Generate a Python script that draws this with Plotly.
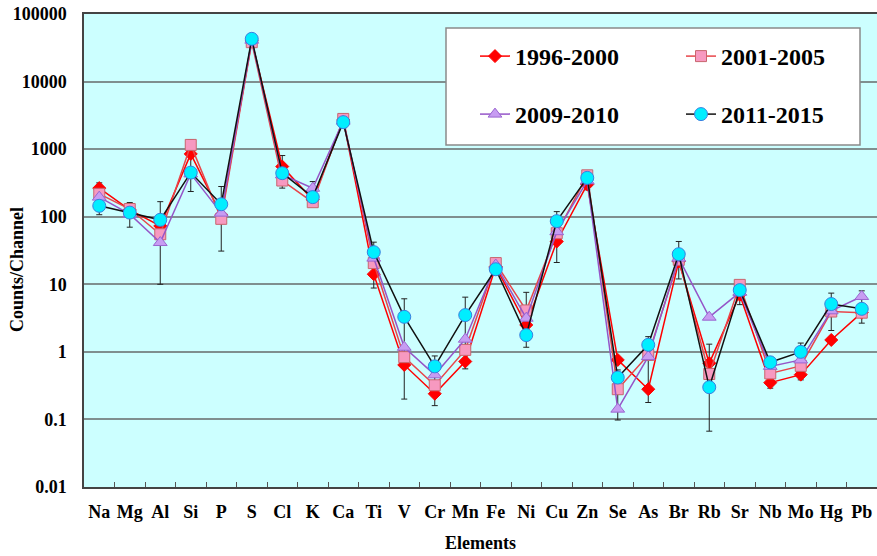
import math
import plotly.graph_objects as go

elements = ["Na", "Mg", "Al", "Si", "P", "S", "Cl", "K", "Ca", "Ti", "V", "Cr", "Mn",
            "Fe", "Ni", "Cu", "Zn", "Se", "As", "Br", "Rb", "Sr", "Nb", "Mo", "Hg", "Pb"]

s1996_2000 = [265, 126, 73, 850, 106, 40000, 553, 178, 2700, 14.1, 0.64, 0.24, 0.72,
              18.3, 2.5, 43, 300, 0.76, 0.28, 21.8, 0.68, 7.0, 0.35, 0.46, 1.5, 3.8]
s2001_2005 = [218, 130, 55, 1155, 93, 38300, 343, 164, 2800, 20.6, 0.835, 0.32, 1.07,
              20.6, 4.1, 57, 410, 0.28, 0.9, 23, 0.47, 9.8, 0.48, 0.62, 3.95, 3.8]
s2009_2010 = [195, 109, 41.5, 430, 113, 41000, 417, 264, 2600, 24.4, 1.17, 0.457, 1.54,
              19.3, 3.15, 60, 340, 0.142, 0.85, 24.4, 3.26, 7.6, 0.61, 0.76, 4.05, 6.6]
s2011_2015 = [145, 115, 90, 450, 153, 42900, 441, 195, 2510, 29.9, 3.3, 0.61, 3.5,
              16.7, 1.77, 86, 376, 0.417, 1.27, 27.9, 0.3, 8.2, 0.70, 1.0, 5.1, 4.33]

# error bar bounds
err_upper = [317, 162, 167, 1372, 280, 49000, 804, 331, 3216, 42, 6.1, 0.87, 6.45,
             24.4, 7.6, 119, 460, 0.54, 1.68, 43, 1.3, 11, 0.81, 1.35, 7.4, 8.0]
err_lower = [107, 70, 10, 236, 31, 37000, 265, 150, 2050, 8.8, 0.2, 0.16, 0.56,
             13.8, 1.17, 21, 250, 0.098, 0.178, 12, 0.067, 5.0, 0.29, 0.385, 2.07, 2.66]

y_tickvals = [0.01, 0.1, 1, 10, 100, 1000, 10000, 100000]
y_ticktext = ["0.01", "0.1", "1", "10", "100", "1000", "10000", "100000"]

FONT = "Times New Roman, Liberation Serif, DejaVu Serif, serif"

err_center = [math.sqrt(u * l) for u, l in zip(err_upper, err_lower)]
err_plus = [u - c for u, c in zip(err_upper, err_center)]
err_minus = [c - l for l, c in zip(err_lower, err_center)]

fig = go.Figure()

fig.add_trace(go.Scatter(
    x=elements, y=err_center, mode="markers",
    marker=dict(size=1, opacity=0), showlegend=False, hoverinfo="skip",
    error_y=dict(type="data", symmetric=False, array=err_plus, arrayminus=err_minus,
                 color="#222222", thickness=1, width=3),
))

series = [
    ("1996-2000", s1996_2000, "#FF0000", dict(symbol="diamond", size=10, color="#FF0000",
                                               line=dict(color="#FF0000", width=1)), "legend"),
    ("2001-2005", s2001_2005, "#E8454A", dict(symbol="square", size=11, color="#F799C0",
                                               line=dict(color="#C8666E", width=1)), "legend"),
    ("2009-2010", s2009_2010, "#9555C8", dict(symbol="triangle-up", size=12, color="#C79CF2",
                                               line=dict(color="#9A66D0", width=1)), "legend2"),
    ("2011-2015", s2011_2015, "#111111", dict(symbol="circle", size=13, color="#00EEFF",
                                               line=dict(color="#3A7FE0", width=1)), "legend2"),
]
for name, vals, lc, mk, lg in series:
    fig.add_trace(go.Scatter(
        x=elements, y=vals, name="<b>" + name + "</b>", mode="lines+markers",
        line=dict(color=lc, width=1.5), marker=mk, legend=lg,
    ))

L, R, T, B = 84, 0, 14, 69
W, H = 877, 556
pw, ph = W - L - R, H - T - B


def px_x(x):
    return (x - L) / pw


def px_y(y):
    return (H - B - y) / ph


legend_common = dict(
    orientation="h", xanchor="left", yanchor="top",
    bgcolor="rgba(0,0,0,0)", borderwidth=0,
    font=dict(family=FONT, size=24, color="black"),
    entrywidth=161, itemwidth=30,
)

fig.update_layout(
    width=W, height=H,
    margin=dict(l=L, r=R, t=T, b=B, autoexpand=False),
    paper_bgcolor="white", plot_bgcolor="#CCFFFF",
    font=dict(family=FONT, size=18, color="black"),
    showlegend=True,
    legend=dict(x=px_x(475), y=px_y(34), **legend_common),
    legend2=dict(x=px_x(475), y=px_y(92), **legend_common),
    shapes=[dict(type="rect", xref="paper", yref="paper",
                 x0=px_x(446), x1=px_x(860), y0=px_y(145), y1=px_y(28),
                 fillcolor="white", line=dict(color="#8A8A8A", width=1.5), layer="above")],
    annotations=[dict(text="<b>Counts/Channel</b>", xref="paper", yref="paper",
                      x=px_x(17), y=px_y(270), xanchor="center", yanchor="middle",
                      textangle=-90, showarrow=False,
                      font=dict(family=FONT, size=18, color="black"))],
    xaxis=dict(
        type="category", tickson="boundaries", ticks="inside", ticklen=5, tickcolor="#555555",
        showgrid=False, showline=True, linecolor="#444444", linewidth=1.5, mirror=True,
        tickangle=0, automargin=False, ticklabelstandoff=8,
        tickvals=elements, ticktext=["<b>" + e + "</b>" for e in elements],
        tickfont=dict(family=FONT, size=18, color="black"),
        title=dict(text="<b>Elements</b>", font=dict(family=FONT, size=18, color="black"),
                   standoff=15),
        range=[-0.5, len(elements) - 0.5],
    ),
    yaxis=dict(
        type="log", range=[-2, 5], tickvals=y_tickvals,
        ticktext=["<b>" + t + "</b>" for t in y_ticktext],
        showgrid=True, gridcolor="#7F8F8F", gridwidth=1.5, ticks="",
        showline=True, linecolor="#444444", linewidth=1.5, mirror=True,
        zeroline=False, ticklabelstandoff=12, automargin=False,
        tickfont=dict(family=FONT, size=18, color="black"),
    ),
)

fig.write_html("out.html", config={"displayModeBar": False},
               post_script="document.body.style.margin='0';")
